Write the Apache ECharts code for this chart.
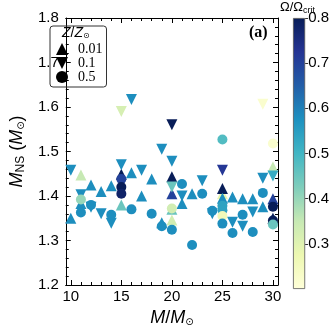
<!DOCTYPE html>
<html><head><meta charset="utf-8">
<script src="https://cdn.jsdelivr.net/npm/echarts@6/dist/echarts.min.js"></script>
<style>html,body{margin:0;padding:0;background:#fff}#c{width:332px;height:332px}</style>
</head><body><div id="c"></div>
<script>
// Z/Zsun = 0.01 (triangle up): [M, M_NS, Omega/Omega_crit]
const triUp = [
 [10,1.350,0.58],[11,1.447,0.35],[11,1.383,0.58],[12,1.425,0.58],[13,1.410,0.58],
 [14,1.423,0.58],[15,1.449,0.80],[15,1.380,0.45],[16,1.452,0.58],[17,1.400,0.58],
 [18,1.438,0.58],[19,1.340,0.58],[20,1.443,0.80],[20,1.405,0.70],[20,1.370,0.45],
 [20,1.346,0.33],[21,1.383,0.58],[22,1.405,0.58],[25,1.405,0.28],[25,1.417,0.80],
 [25,1.395,0.58],[26,1.398,0.58],[27,1.394,0.58],[28,1.394,0.58],[29,1.376,0.58],
 [30,1.465,0.35],[30,1.394,0.70],[30,1.350,0.80]
];
// Z/Zsun = 0.1 (triangle down)
const triDown = [
 [10,1.458,0.58],[11,1.403,0.58],[12,1.375,0.58],[13,1.360,0.58],[14,1.339,0.58],
 [15,1.590,0.32],[15,1.470,0.58],[16,1.617,0.58],[17,1.458,0.58],[19,1.505,0.58],
 [20,1.560,0.80],[20,1.478,0.58],[20,1.420,0.45],[21,1.400,0.58],[23,1.434,0.58],
 [24,1.360,0.58],[25,1.458,0.72],[26,1.341,0.58],[27,1.332,0.58],[28,1.364,0.58],
 [29,1.606,0.22],[29,1.440,0.58],[30,1.445,0.52]
];
// Z/Zsun = 0.5 (circle)
const circ = [
 [11,1.392,0.40],[11,1.363,0.58],[12,1.380,0.58],[14,1.358,0.58],[15,1.438,0.70],
 [15,1.420,0.80],[15,1.405,0.78],[16,1.370,0.58],[18,1.360,0.58],[19,1.332,0.58],
 [20,1.372,0.33],[20,1.324,0.58],[21,1.427,0.58],[22,1.290,0.58],[23,1.405,0.58],
 [24,1.367,0.58],[25,1.527,0.48],[25,1.378,0.54],[25,1.368,0.54],[25,1.355,0.26],
 [25,1.338,0.58],[26,1.317,0.58],[27,1.358,0.58],[28,1.319,0.58],[29,1.407,0.58],
 [30,1.518,0.22],[30,1.376,0.80],[30,1.345,0.80],[30,1.336,0.45]
];
const legendNames = ['0.01','0.1','0.5'];
const xMajor = [10,15,20,25,30];
const cbTicks = [0.3,0.4,0.5,0.6,0.7,0.8];
const cmap = ['#ffffd9','#edf8b1','#c7e9b4','#7fcdbb','#41b6c4','#1d91c0','#225ea8','#253494','#081d58'];
const cbMin = 0.2, cbMax = 0.8;

const xMinor = [];
for (let v = 10; v <= 30; v++) if (v % 5) xMinor.push(v);

const sans = 'Liberation Sans';
const chart = echarts.init(document.getElementById('c'));
const gradStops = cmap.map((c,i)=>({offset:1 - i/(cmap.length-1), color:c}));

const baseX = {type:'value', min:9.5, max:30.5, gridIndex:0, splitLine:{show:false}};
const axisLineStyle = {show:true, lineStyle:{color:'#000', width:1}};
const nameRich = {
  i:{fontStyle:'italic', fontFamily:sans, fontSize:18, color:'#000'},
  n:{fontFamily:sans, fontSize:18, color:'#000'},
  sub:{fontFamily:sans, fontSize:12, color:'#000', padding:[8,0,0,0]},
  sun:{fontFamily:'DejaVu Sans', fontSize:10, color:'#000', padding:[8,0,0,0]}
};

chart.setOption({
  animation:false,
  grid:[
    {left:44, right:54, top:18, bottom:42, show:false},
    {left:293, width:20, top:18, bottom:43, show:false}
  ],
  visualMap:{type:'continuous', show:false, min:cbMin, max:cbMax, dimension:2, seriesIndex:[0,1,2], inRange:{color:cmap}},
  xAxis:[
    Object.assign({}, baseX, {position:'bottom', axisLine:axisLineStyle,
      axisTick:{show:true, inside:true, length:5, customValues:xMajor, lineStyle:{color:'#000'}},
      axisLabel:{customValues:xMajor, margin:4, fontFamily:sans, fontSize:15, color:'#000'},
      name:'{i|M}{n|/}{i|M}{sun|⊙}', nameLocation:'middle', nameGap:24,
      nameTextStyle:{rich:nameRich}}),
    Object.assign({}, baseX, {position:'top', axisLine:axisLineStyle,
      axisTick:{show:true, inside:true, length:5, customValues:xMajor, lineStyle:{color:'#000'}},
      axisLabel:{show:false}}),
    Object.assign({}, baseX, {position:'bottom', axisLine:{show:false},
      axisTick:{show:true, inside:true, length:3, customValues:xMinor, lineStyle:{color:'#000'}},
      axisLabel:{show:false}}),
    Object.assign({}, baseX, {position:'top', axisLine:{show:false},
      axisTick:{show:true, inside:true, length:3, customValues:xMinor, lineStyle:{color:'#000'}},
      axisLabel:{show:false}}),
    {type:'category', gridIndex:1, data:['cb'], show:false}
  ],
  yAxis:[
    {type:'value', gridIndex:0, min:1.2, max:1.8, interval:0.1, position:'left', splitLine:{show:false},
      axisLine:axisLineStyle,
      axisTick:{show:true, inside:true, length:5, lineStyle:{color:'#000'}},
      minorTick:{show:true, splitNumber:5, length:3, lineStyle:{color:'#000'}},
      axisLabel:{margin:7, fontFamily:sans, fontSize:15, color:'#000', formatter:v=>v.toFixed(1)},
      name:'{i|M}{sub|NS}{n| (}{i|M}{sun|⊙}{n|)}', nameLocation:'middle', nameGap:33, nameRotate:90,
      nameTextStyle:{rich:nameRich}},
    {type:'value', gridIndex:0, min:1.2, max:1.8, interval:0.1, position:'right', splitLine:{show:false},
      axisLine:axisLineStyle,
      axisTick:{show:true, inside:true, length:5, lineStyle:{color:'#000'}},
      minorTick:{show:true, splitNumber:5, length:3, lineStyle:{color:'#000'}},
      axisLabel:{show:false}},
    {type:'value', gridIndex:1, min:cbMin, max:cbMax, interval:0.1, position:'right', splitLine:{show:false},
      axisLine:{show:false},
      axisTick:{show:true, inside:false, length:3, customValues:cbTicks, lineStyle:{color:'#333'}},
      axisLabel:{margin:3, customValues:cbTicks, fontFamily:sans, fontSize:15, color:'#000', formatter:v=>v.toFixed(1)}}
  ],
  legend:{
    orient:'vertical', left:50, top:26, padding:[16,4,3,6], itemGap:0, itemWidth:12, itemHeight:12,
    borderColor:'#333', borderWidth:1, borderRadius:3, selectedMode:false,
    itemStyle:{color:'#000', borderWidth:0},
    textStyle:{fontFamily:'Liberation Serif', fontSize:14, color:'#000', padding:[0,0,0,5], lineHeight:12},
    data:[{name:legendNames[0], icon:'triangle'},{name:legendNames[1], icon:'path://M0,0L10,0L5,10Z'},{name:legendNames[2], icon:'circle'}]
  },
  graphic:[
    {type:'text', left:62, top:26, style:{text:'{i|Z}{n|/}{i|Z}{sun|⊙}', rich:{
      i:{fontStyle:'italic', fontFamily:sans, fontSize:14, fill:'#000'},
      n:{fontFamily:sans, fontSize:14, fill:'#000'},
      sun:{fontFamily:'DejaVu Sans', fontSize:8, fill:'#000', padding:[6,0,0,0]}}}},
    {type:'text', left:249, top:25, style:{text:'(a)', font:'bold 16px "Liberation Serif"', fill:'#000'}},
    {type:'text', left:280, top:1, style:{text:'{n|Ω/Ω}{s|crit}', rich:{
      n:{fontFamily:sans, fontSize:13, fill:'#000'},
      s:{fontFamily:sans, fontSize:9, fill:'#000', padding:[6,0,0,0]}}}}
  ],
  series:[
    {name:legendNames[0], type:'scatter', xAxisIndex:0, yAxisIndex:0, symbol:'triangle', symbolSize:11, data:triUp, itemStyle:{opacity:1}},
    {name:legendNames[1], type:'scatter', xAxisIndex:0, yAxisIndex:0, symbol:'triangle', symbolRotate:180, symbolSize:11, data:triDown, itemStyle:{opacity:1}},
    {name:legendNames[2], type:'scatter', xAxisIndex:0, yAxisIndex:0, symbol:'circle', symbolSize:10, data:circ, itemStyle:{opacity:1}},
    {type:'bar', xAxisIndex:4, yAxisIndex:2, stack:'cb', barWidth:'100%', silent:true, data:[cbMin], itemStyle:{color:'rgba(0,0,0,0)'}},
    {type:'bar', xAxisIndex:4, yAxisIndex:2, stack:'cb', barWidth:'100%', silent:true, data:[cbMax-cbMin],
      itemStyle:{borderColor:'#555', borderWidth:0.8, color:new echarts.graphic.LinearGradient(0,0,0,1,gradStops)}}
  ]
});
</script></body></html>
